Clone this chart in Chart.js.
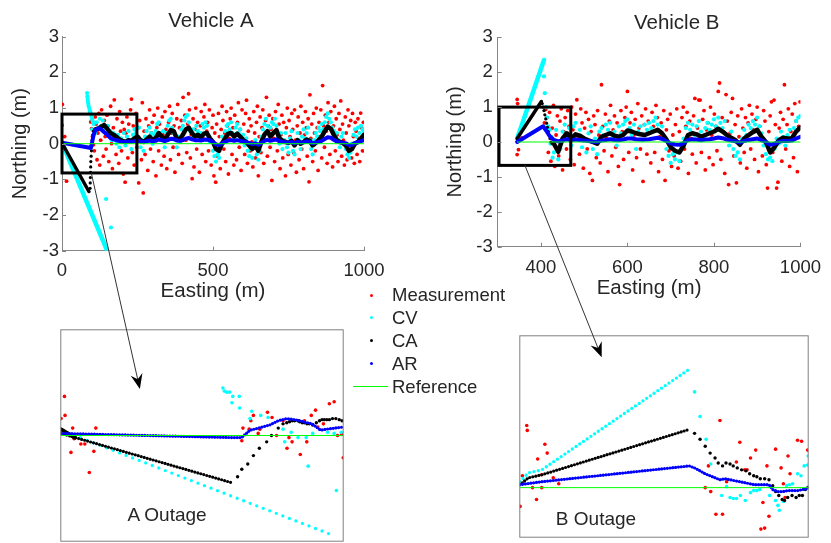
<!DOCTYPE html>
<html><head><meta charset="utf-8">
<title>Vehicle A / Vehicle B</title>
<script src="https://cdn.jsdelivr.net/npm/chart.js@4.4.1/dist/chart.umd.min.js"></script>
<style>
html,body{margin:0;padding:0;background:#ffffff;}
#wrap{position:relative;width:831px;height:543px;overflow:hidden;font-family:"Liberation Sans",Arial,Helvetica,sans-serif;color:#262626;}
#wrap canvas{position:absolute;}
.lg{position:absolute;font-size:18.5px;line-height:20px;white-space:nowrap;color:#262626;z-index:6;}
.mk{position:absolute;z-index:6;}
.out{position:absolute;font-size:19px;line-height:20px;white-space:nowrap;transform:translateX(-50%);color:#262626;z-index:6;}
</style></head>
<body><div id="wrap">
<canvas id="mainA" width="420" height="310" style="left:0px;top:0px"></canvas>
<canvas id="mainB" width="391" height="310" style="left:440px;top:0px"></canvas>
<canvas id="insetA" width="286" height="215" style="left:59px;top:328px"></canvas>
<canvas id="insetB" width="292" height="205" style="left:518px;top:334px"></canvas>
<canvas id="overlay" width="831" height="543" style="left:0px;top:0px;z-index:5"></canvas>
<div class="out" style="left:167px;top:505px">A Outage</div>
<div class="out" style="left:596px;top:509px">B Outage</div>
<div id="legend"></div>
</div>
<script>
// ---------------- tick labels ----------------
const yTicks = [-3, -2, -1, 0, 1, 2, 3];
const xTicksA = [0, 500, 1000];
const xTicksB = [400, 600, 800, 1000];

// ---------------- Vehicle A ----------------
const measA_early = [[0,0.52],[1,1.1],[9,0.2],[15,-1.05]];
const measA_x0 = 92, measA_dx = 3;
const measA_y = [
0.9,0.61,0.42,0.2,-0.03,-0.2,0.75,0.55,-0.45,0.3,0.85,-0.6,0.1,0.95,0.4,-0.35,0.65,0.2,-0.15,0.8,
0.5,-0.5,0.35,1.05,0.0,-0.7,0.45,1.23,0.25,-0.3,0.7,0.15,-0.55,0.9,0.35,-0.2,0.6,-0.85,0.4,-1.08,
0.3,0.75,-0.4,0.55,0.1,0.95,1.25,-0.25,0.5,-0.6,0.2,0.85,-0.1,0.45,-1.1,0.65,0.05,-0.45,1.15,-1.38,
0.35,-0.3,0.7,0.15,-0.75,0.5,0.95,-0.15,0.3,0.6,-0.5,0.8,0.2,-0.9,0.45,1.0,-0.2,0.55,0.1,-0.6,
0.75,0.25,-0.35,0.9,0.4,-0.7,0.15,0.6,1.05,-0.45,0.3,0.85,-0.1,0.5,-0.8,0.2,0.7,1.1,-0.3,0.45,
0.05,0.65,-0.55,1.3,0.35,0.8,0.1,-0.25,0.55,1.4,0.95,-0.4,0.25,-0.98,0.7,-0.65,0.4,1.0,-0.15,0.6,
0.2,-0.8,0.5,0.9,-0.3,0.15,0.75,1.1,-0.5,0.35,0.6,-0.2,0.95,0.1,-0.6,0.45,0.8,-0.9,0.3,-1.08,
0.55,-0.35,0.85,0.2,-0.7,0.4,1.05,0.65,-0.15,0.3,-0.5,0.9,0.5,-0.85,0.15,0.7,1.0,-0.3,0.45,-0.6,
0.8,0.25,-0.45,0.6,1.15,-0.1,0.4,-0.75,0.95,0.15,0.55,-0.3,0.85,1.22,-0.55,0.35,0.7,-0.2,0.5,0.05,
-0.65,0.9,0.3,-0.4,0.6,1.05,-0.9,0.2,0.75,-0.25,0.45,0.95,-0.55,0.1,0.65,1.3,-0.35,0.5,0.8,-0.1,
0.4,-1.03,0.7,0.15,-0.5,0.9,0.35,-0.2,1.1,0.55,-0.7,0.25,0.8,-0.4,0.6,0.05,-0.9,0.45,1.0,-0.3,
0.65,0.2,-0.6,0.85,0.4,-0.25,0.95,0.1,-0.8,0.5,0.75,-0.45,0.3,1.05,-0.15,0.6,-0.7,0.25,0.9,0.45,
-0.35,0.7,-1.07,1.37,0.15,0.55,-0.5,0.85,0.3,-0.2,1.0,0.45,-0.75,0.6,0.2,0.95,-0.4,1.63,0.5,-0.1,
0.8,0.35,-0.55,1.15,0.6,-0.3,0.9,0.15,-0.65,0.5,1.05,-0.2,0.7,0.25,-0.5,0.85,0.4,1.2,-0.35,0.55,
0.1,-0.6,0.75,0.3,-0.45,0.95,0.5,-0.2,0.65,-0.4,0.85,0.2,-0.55,0.6,0.35,-0.3,0.7,0.15,-0.5,0.86,
0.45,-0.2,0.6];

const cvA_x0 = 100, cvA_dx = 5;
const cvA = [
0.4,0.55,0.3,0.6,0.45,0.7,0.5,0.65,0.45,0.3,0.5,0.2,0.35,0.1,0.3,0.15,0.0,0.25,-0.1,0.15,
0.05,0.3,-0.05,0.2,0.35,0.1,-0.15,0.25,0.4,0.3,0.15,0.45,-0.1,0.1,-0.2,0.2,0.35,0.15,0.45,0.3,
0.0,0.25,0.35,0.55,0.6,0.3,0.1,0.35,-0.1,0.3,0.5,0.65,0.7,0.45,0.3,0.1,-0.1,0.2,0.05,0.4,
0.5,0.65,0.75,0.8,0.6,0.35,0.15,0.4,0.25,0.5,0.35,0.1,0.3,0.55,0.45,0.6,0.5,0.2,0.05,0.1,
-0.2,-0.35,-0.5,-0.3,-0.4,-0.1,0.2,0.1,0.35,0.5,0.55,0.4,0.6,0.3,0.15,0.45,0.55,0.3,0.4,0.1,
0.25,-0.05,0.15,-0.2,-0.35,-0.15,-0.4,-0.1,0.1,-0.3,-0.45,-0.2,0.2,0.4,0.55,0.7,0.5,0.3,0.45,0.6,
0.55,0.7,0.5,0.2,0.0,0.3,-0.15,0.1,0.3,-0.1,-0.25,0.15,0.35,-0.2,-0.3,0.0,0.3,0.1,-0.15,0.2,
0.4,0.15,0.3,0.45,0.1,-0.15,-0.3,0.1,0.3,0.2,0.45,0.35,0.55,0.4,0.6,0.75,0.85,0.7,0.6,0.45,
0.35,0.2,0.3,0.1,-0.1,0.2,0.3,0.0,-0.15,-0.3,-0.4,-0.25,0.0,0.25,0.4,0.2,0.45,0.3,0.5,0.4,
0.35];
const cvOutA = [[0,0.02],[157,-3.15]];
const cvRecA = [[83,1.42],[84,1.33],[85,1.25],[86,1.18],[87,1.12],[88,1.06],[90,1.0],[92,0.93],[94,0.88],[96,0.82],[98,0.75],[100,0.68],[102,0.62],[146,-1.55],[162,-2.35]];

const trackA_x0 = 110, trackA_dx = 10;
const caA = [
0.4,0.42,0.48,0.52,0.42,0.3,0.25,0.2,0.12,0.08,
0.05,0.1,0.08,0.15,0.2,0.1,0.05,0.12,0.2,0.1,
0.15,0.3,0.2,0.1,0.25,0.38,0.35,0.15,0.12,0.25,
0.4,0.45,0.3,0.2,0.25,0.18,0.28,0.3,0.15,0.05,
-0.15,-0.2,0.0,0.15,0.28,0.3,0.2,0.28,0.2,0.1,
0.05,-0.05,-0.15,-0.05,-0.2,0.05,0.25,0.35,0.2,0.3,
0.38,0.15,0.08,0.05,0.02,0.08,-0.05,0.1,0.0,0.05,
0.12,0.08,-0.05,0.02,0.1,0.2,0.35,0.48,0.42,0.25,
0.1,0.05,0.02,-0.05,-0.2,-0.15,0.0,0.05,0.15,0.25];
const caOutA = [[0,0.02],[89,-1.34]];
const caRecA = [[93,-1.25],[93.5,-1.1],[94,-0.95],[94.5,-0.8],[95,-0.65],[95.5,-0.5],[96.5,-0.35],[97.5,-0.2],[98.5,-0.05],[100,0.1],[102,0.25],[104,0.35]];

const arA = [
0.38,0.43,0.4,0.32,0.25,0.16,0.12,0.1,0.07,0.05,
0.05,0.06,0.05,0.07,0.08,0.06,0.05,0.07,0.09,0.07,
0.08,0.12,0.1,0.07,0.1,0.14,0.13,0.09,0.08,0.1,
0.14,0.16,0.12,0.1,0.1,0.09,0.11,0.12,0.09,0.05,
-0.02,-0.04,0.01,0.05,0.09,0.1,0.08,0.1,0.08,0.06,
0.04,0.02,-0.01,0.01,-0.03,0.02,0.08,0.11,0.08,0.1,
0.12,0.07,0.05,0.04,0.03,0.05,0.01,0.05,0.03,0.04,
0.06,0.05,0.01,0.03,0.05,0.08,0.13,0.18,0.17,0.11,
0.06,0.04,0.03,0.01,-0.04,-0.03,0.02,0.04,0.07,0.1];
const arOutA = [[0,0.03],[96,-0.12],[104,0.22]];
const refA = [[0,0],[1000,0]];
const boxA = {x0:0, x1:248, y0:-0.82, y1:0.83};

// ---------------- Vehicle B ----------------
const measB_early = [[345,1.22],[346,1.1],[345,-0.36],[348,-0.22],[352,0.3],[356,0.12]];
const measB_x0 = 408, measB_dx = 3;
const measB_y = [
0.55,0.93,0.7,-0.3,0.85,-0.55,0.4,1.05,-0.7,0.2,0.75,-0.4,0.6,0.95,-0.8,0.3,0.7,-0.2,0.9,0.45,
-0.5,1.0,0.35,-0.65,0.8,1.21,0.15,-0.35,0.95,0.55,-0.75,0.4,0.85,-0.2,0.65,-0.9,0.3,-1.1,0.75,0.5,
-0.45,0.9,0.2,-0.6,1.64,0.45,-0.25,0.8,0.1,-0.85,0.6,1.05,-0.4,0.35,0.75,-0.15,0.55,-0.7,-1.22,0.9,
0.3,-0.5,0.7,1.0,1.45,-0.3,0.55,0.85,-0.8,0.2,0.65,-0.45,1.1,0.4,-0.2,0.75,-1.13,0.5,0.95,-0.35,
0.6,0.25,-0.6,0.85,0.45,-0.3,1.05,0.7,-0.85,0.15,0.55,-0.5,0.9,-1.1,0.35,0.65,-0.25,0.8,-0.7,0.2,
-0.4,0.5,0.95,-0.75,0.3,-0.55,0.7,1.0,-0.2,0.45,0.85,-0.9,0.6,0.1,-0.35,0.75,1.25,-0.6,0.4,1.2,
1.2,-0.3,0.65,0.9,-0.8,0.35,0.55,-0.45,1.0,0.2,-0.65,0.8,0.45,-0.25,1.45,1.69,-0.5,0.7,0.3,-0.9,
1.36,0.6,-1.22,0.25,0.85,1.25,-0.4,0.5,-1.17,0.75,0.15,-0.6,0.95,0.4,-0.3,0.7,-0.75,0.55,1.05,-0.2,
0.8,0.35,-0.5,0.65,1.0,-0.85,0.45,0.2,-0.4,0.9,0.6,-0.65,-1.32,0.3,0.75,1.15,-0.3,1.2,0.5,-1.32,
-1.15,0.4,0.85,-0.55,0.65,1.64,-0.2,0.5,0.95,-0.7,0.3,0.8,-0.45,1.1,0.6,-0.85,0.45,1.15];

const cvB_x0 = 430, cvB_dx = 5;
const cvB = [
-0.3,0.35,-0.5,-0.2,0.3,0.5,0.2,0.4,-0.1,0.45,0.55,0.2,0.35,-0.15,0.1,-0.3,0.25,0.45,-0.2,0.1,
-0.35,0.3,0.4,0.2,0.5,0.35,0.55,0.1,0.3,-0.1,0.45,0.25,0.5,0.6,0.65,0.4,0.2,0.5,-0.2,0.3,
0.45,0.05,0.5,0.35,0.55,0.4,0.6,0.7,0.5,0.3,0.45,0.1,-0.2,-0.4,-0.6,-0.35,-0.5,-0.3,-0.55,-0.2,
0.1,0.4,0.55,0.35,0.5,0.2,0.45,0.6,0.3,0.1,0.4,0.55,0.35,0.5,0.65,0.45,0.7,0.55,0.4,0.6,
0.2,-0.1,0.3,-0.2,-0.4,-0.3,-0.5,0.1,0.35,0.2,0.5,0.4,0.6,0.5,0.7,0.45,0.25,-0.1,-0.35,-0.5,
-0.45,-0.55,-0.2,0.1,-0.05,0.3,0.15,-0.1,0.2,0.35,0.1,0.4,0.6,0.7,0.75];
const cvOutB = [[345,0.1],[407,2.35]];
const cvRecB = [[407,1.88],[409,1.4],[412,1.0],[414,0.7],[417,0.45],[420,0.35],[422,-0.05],[424,0.15],[427,-0.45]];

const trackB_x0 = 430, trackB_dx = 10;
const caB = [
-0.05,-0.28,0.1,0.25,0.1,0.22,0.18,0.1,0.05,0.0,
-0.05,0.15,0.2,0.25,0.18,0.15,0.2,0.33,0.3,0.25,
0.22,0.2,0.25,0.3,0.35,0.25,0.08,-0.15,-0.25,-0.3,
-0.1,0.2,0.25,0.22,0.15,0.2,0.25,0.3,0.38,0.3,
0.2,0.12,0.05,-0.08,0.1,0.2,0.28,0.35,0.15,0.0,
-0.3,-0.15,0.05,0.12,0.1,0.1,0.3,0.42];
const caOutB = [[345,0.1],[401,1.16]];
const caRecB = [[403,1.1],[405,1.0],[407,0.9],[409,0.78],[411,0.66],[413,0.54],[415,0.42],[417,0.3],[419,0.2],[421,0.1],[423,0.0],[426,-0.05]];

const arB = [
0.06,0.02,0.04,0.08,0.05,0.07,0.06,0.04,0.03,0.01,
0.0,0.04,0.06,0.08,0.06,0.05,0.07,0.1,0.1,0.08,
0.07,0.07,0.08,0.1,0.12,0.09,0.03,-0.04,-0.07,-0.08,
-0.03,0.06,0.08,0.07,0.05,0.07,0.08,0.1,0.13,0.11,
0.07,0.04,0.02,-0.02,0.03,0.06,0.08,0.1,0.05,0.0,
-0.08,-0.05,0.01,0.03,0.03,0.04,0.1,0.15];
const arOutB = [[345,0.0],[405,0.45],[412,0.33],[420,0.17]];
const refB = [[345,0],[1000,0]];
const boxB = {x0:303, x1:469, y0:-0.67, y1:1.0};

// ---------------- Inset A (outage close-up, relative units) ----------------
const insA_meas = [[0.1,0.16],[1.3,0.37],[1.5,0.19],[4.2,0.07],[3.6,-0.16],[4.7,-0.03],[7.1,-0.08],[8.5,-0.08],[10.1,-0.35],[11.7,-0.15],[12.4,0.07],
[64.5,0.07],[64.1,-0.05],[66.7,0.06],[67.3,0.14],[68.2,0.19],[69.9,0.02],[70.5,0.06],[73.2,0.22],[74.8,0.17],[76.4,0],[78.7,0.14],[80.1,-0.12],[80.8,-0.02],[81.9,-0.06],[84.8,-0.18],[86.3,0.14],[87.1,-0.06],[88.7,0.19],[90.2,0.24],[91,0.08],[93,0.11],[95.1,0.3],[96.8,0.32],[98,0],[99.5,0.01],[100,-0.21]];
const insA_cvOut = [[0,0.05],[97,-0.95]];
const insA_cvPost = [[57.4,0.45],[57.9,0.42],[58.8,0.41],[59.8,0.41],[60.9,0.37],[60.6,0.31],[63.2,0.37],[63.3,0.26],[67.6,0.23],[67,0.16],[70.8,0.19],[73.4,0.17],[78.7,0.06],[81.6,0.03],[79.3,-0.06],[84,-0.02],[86.9,-0.02],[87.6,-0.29],[89.2,0.02],[94.5,0.03],[97.6,-0.52],[96.8,0.02],[99.3,0.03]];
const insA_caStart = [[0,0.06],[5,-0.02]];
const insA_caOut = [[0,0.02],[61,-0.45]];
const insA_caPost = [[62.6,-0.39],[64.1,-0.32],[66.2,-0.27],[68.2,-0.19],[70.3,-0.12],[72.9,-0.06],[74.6,0],[77,0.07],[78.7,0.11],[80,0.12],[81,0.13],[82,0.14],[82.8,0.14],[84,0.14],[84.6,0.13],[85.5,0.12],[86.3,0.12],[87.2,0.11],[88,0.11],[89.2,0.1],[90.5,0.12],[91.6,0.14],[92.5,0.15],[93.3,0.15],[94.2,0.15],[95.1,0.15],[96.2,0.16],[97.4,0.16],[98.6,0.15],[99.6,0.14]];
const insA_ar = [[0,0.02],[61,-0.02],[64,-0.02],[67,0.05],[70,0.07],[74,0.1],[77,0.14],[80,0.16],[83,0.15],[86,0.13],[89,0.11],[92,0.05],[94,0.06],[97,0.07],[100,0.08]];
const insA_ref = [[0,0],[100,0]];

// ---------------- Inset B ----------------
const insB_meas = [[0.1,-0.19],[2.4,0.63],[2.6,0.58],[0.9,0.12],[4.4,0],[5.8,-0.12],[6.2,0.29],[7.6,0],[7.6,0.13],[8.7,0.44],[9.5,0.35],[11.6,0.1],[13.5,0.04],
[64.3,0],[65.4,0.22],[66.2,-0.04],[68,-0.27],[69.4,0.68],[70.3,-0.27],[71.7,0.06],[75.1,0.26],[76.3,0.46],[78,0.18],[78.8,0.18],[80,0.3],[81.8,0.38],[83.6,-0.42],[84.3,-0.15],[84.9,-0.41],[85.7,0.22],[86.4,-0.29],[88.7,0.39],[90.6,0.2],[91.4,0.04],[92,-0.1],[93,0.32],[93.7,0.14],[96.3,0.48],[97.7,0.47],[99.8,0.38],[100,0]];
const insB_cvOut = [[0,0.06],[3,0.15],[7.6,0.18],[58.8,1.2]];
const insB_cvPost = [[60.6,0.97],[62.5,0.72],[64.6,0.49],[66.2,0.24],[70,-0.08],[71.7,0.01],[72.9,-0.1],[74,-0.11],[75.1,-0.11],[76.5,-0.08],[78.2,-0.13],[80,-0.05],[81.1,-0.03],[82.2,-0.03],[83.2,-0.02],[86.6,-0.08],[88.7,-0.13],[89.5,-0.18],[90,-0.23],[91.4,-0.14],[92.5,0.02],[93.5,0.03],[94.6,0.04],[96.3,0.14],[97.5,0.12],[98.6,0.22],[99.8,0.23],[100,0.32]];
const insB_caOut = [[0,0.03],[3,0.1],[7.6,0.13],[58.8,0.59]];
const insB_caPost = [[60.6,0.55],[62.5,0.49],[64.3,0.42],[66,0.35],[67.7,0.3],[68.8,0.25],[70.3,0.22],[71.5,0.25],[72.9,0.24],[74,0.22],[75.4,0.2],[76.9,0.18],[78.4,0.17],[79.7,0.14],[81.1,0.12],[82.2,0.11],[83.4,0.09],[84.9,0.09],[86.4,0.08],[87.7,0.02],[88.7,-0.04],[89.8,-0.08],[91,-0.12],[91.8,-0.13],[92.9,-0.1],[94.4,-0.08],[95.8,-0.1],[96.9,-0.08],[98,-0.08],[99,-0.02],[100,0]];
const insB_ar = [[0,0.03],[7.6,0.06],[58.8,0.22],[60.6,0.2],[62.5,0.17],[64.3,0.14],[66,0.12],[67.7,0.1],[69.4,0.08],[71.1,0.09],[72.9,0.08],[74.6,0.07],[76.3,0.06],[78,0.05],[79.7,0.04],[81.4,0.03],[84.9,0.03],[86.4,0.03],[87.7,-0.02],[89.5,-0.04],[91.2,-0.04],[92.9,-0.03],[96.3,-0.03],[98,-0.02],[99.7,-0.01],[100,0.01]];
const insB_ref = [[0,0],[100,0]];

// ---------------- legend ----------------
const legendLabels = ['Measurement', 'CV', 'CA', 'AR', 'Reference'];

// ================= rendering =================
const FONT = '"Liberation Sans", Arial, Helvetica, sans-serif';
const TXT = '#262626', AXIS = '#858585';
const C = {meas:'#ff0000', cv:'#00ffff', ca:'#000000', ar:'#0000ff', ref:'#00ff00'};
const legendColors = [C.meas, C.cv, C.ca, C.ar, C.ref];
Chart.defaults.font.family = FONT;
Chart.defaults.color = TXT;

function seq(x0, dx, ys){ return ys.map((y,i)=>({x:x0+i*dx, y:y})); }
function pairs(a){ return a.map(p=>({x:p[0], y:p[1]})); }
function ptsDs(data, color, r, order){
  return {data:data, showLine:false, pointRadius:r, pointHoverRadius:r, pointBorderWidth:0,
          pointBackgroundColor:color, backgroundColor:color, borderColor:color, order:order};
}
function lineDs(data, color, w, order, gap){
  const d = {data:data, showLine:true, pointRadius:0, pointHoverRadius:0, borderColor:color, backgroundColor:color,
             borderWidth:w, tension:0, fill:false, order:order, borderJoinStyle:'round', borderCapStyle:'round'};
  if (gap) d.borderDash = [0, gap];
  return d;
}

const plotTitle = {id:'plotTitle', afterDraw(chart, args, o){
  const c = chart.ctx; c.save(); c.font = '20.5px ' + FONT; c.fillStyle = TXT;
  c.textAlign = 'center'; c.textBaseline = 'middle'; c.fillText(o.text, o.x, o.y); c.restore();
}};
const zoomBox = {id:'zoomBox', afterDatasetsDraw(chart, args, o){
  const xs = chart.scales.x, ys = chart.scales.y, c = chart.ctx;
  const l = xs.getPixelForValue(o.x0), r = xs.getPixelForValue(o.x1);
  const t = ys.getPixelForValue(o.y1), b = ys.getPixelForValue(o.y0);
  c.save(); c.strokeStyle = '#000'; c.lineWidth = 3; c.strokeRect(l, t, r-l, b-t); c.restore();
}};
const inTicks = {id:'inTicks', afterDraw(chart){
  const xs = chart.scales.x, ys = chart.scales.y, a = chart.chartArea, c = chart.ctx;
  c.save(); c.strokeStyle = AXIS; c.lineWidth = 1; c.beginPath();
  xs.ticks.forEach(t=>{ const p = Math.round(xs.getPixelForValue(t.value)) + 0.5; c.moveTo(p, a.bottom); c.lineTo(p, a.bottom - 4); });
  ys.ticks.forEach(t=>{ const p = Math.round(ys.getPixelForValue(t.value)) + 0.5; c.moveTo(a.left, p); c.lineTo(a.left + 4, p); });
  c.stroke(); c.restore();
}};
const frame = {id:'frame', afterDraw(chart){
  const a = chart.chartArea, c = chart.ctx;
  c.save(); c.strokeStyle = '#808080'; c.lineWidth = 1; c.strokeRect(a.left, a.top, a.right-a.left, a.bottom-a.top); c.restore();
}};

function mainChart(id, cfg){
  return new Chart(document.getElementById(id), {
    type:'scatter',
    data:{datasets:cfg.datasets},
    options:{
      responsive:false, animation:false, events:[],
      layout:{padding:{top:cfg.padTop, right:cfg.padRight, left:0, bottom:0}},
      plugins:{legend:{display:false}, tooltip:{enabled:false},
               plotTitle:{text:cfg.title, x:cfg.titleX, y:cfg.titleY}, zoomBox:cfg.box},
      scales:{
        x:{type:'linear', position:'bottom', min:cfg.xMin, max:cfg.xMax,
           afterBuildTicks:s=>{ s.ticks = cfg.xTicks.map(v=>({value:v})); },
           afterFit:s=>{ s.height = cfg.xAxisH; },
           grid:{display:false, drawTicks:false},
           border:{display:true, color:AXIS, width:1},
           ticks:{padding:cfg.xTickPad, font:{size:18.5}, color:TXT, maxRotation:0, autoSkip:false, callback:v=>String(v)},
           title:{display:true, text:'Easting (m)', font:{size:20.5}, color:TXT, padding:{top:0, bottom:cfg.xTitlePad}}},
        y:{type:'linear', position:'left', min:-3, max:3,
           afterBuildTicks:s=>{ s.ticks = yTicks.map(v=>({value:v})); },
           afterFit:s=>{ s.width = cfg.yAxisW; },
           grid:{display:false, drawTicks:false},
           border:{display:true, color:AXIS, width:1},
           ticks:{padding:cfg.yTickPad, font:{size:18.5}, color:TXT, autoSkip:false, callback:v=>String(v)},
           title:{display:true, text:'Northing (m)', font:{size:20}, color:TXT, padding:{top:cfg.yTitlePad, bottom:0}}}
      }
    },
    plugins:[plotTitle, zoomBox, inTicks]
  });
}

function insetChart(id, datasets, yMin, yMax){
  return new Chart(document.getElementById(id), {
    type:'scatter',
    data:{datasets:datasets},
    options:{
      responsive:false, animation:false, events:[],
      layout:{padding:0.5},
      plugins:{legend:{display:false}, tooltip:{enabled:false}},
      scales:{x:{type:'linear', display:false, min:0, max:100}, y:{type:'linear', display:false, min:yMin, max:yMax}}
    },
    plugins:[frame]
  });
}

const chartA = mainChart('mainA', {
  datasets:[
    ptsDs(pairs(measA_early).concat(seq(measA_x0, measA_dx, measA_y)), C.meas, 1.9, 5),
    lineDs(pairs(cvOutA), C.cv, 4.5, 4),
    ptsDs(pairs(cvRecA).concat(seq(cvA_x0, cvA_dx, cvA)), C.cv, 2.1, 4),
    lineDs(pairs(caOutA), C.ca, 3.5, 3),
    ptsDs(pairs(caRecA), C.ca, 1.6, 3),
    lineDs(seq(trackA_x0, trackA_dx, caA), C.ca, 4.5, 3),
    lineDs(pairs(arOutA).concat(seq(trackA_x0, trackA_dx, arA)), C.ar, 4, 2),
    lineDs(pairs(refA), C.ref, 1, 1)
  ],
  xMin:0, xMax:1000, xTicks:xTicksA,
  padTop:36.7, padRight:56, xAxisH:59.3, yAxisW:62,
  xTickPad:9, yTickPad:3, xTitlePad:6, yTitlePad:8,
  title:'Vehicle A', titleX:211, titleY:21.7, box:boxA
});

const chartB = mainChart('mainB', {
  datasets:[
    ptsDs(pairs(measB_early).concat(seq(measB_x0, measB_dx, measB_y)), C.meas, 1.9, 5),
    lineDs(pairs(cvOutB), C.cv, 4.5, 4),
    ptsDs(pairs(cvRecB).concat(seq(cvB_x0, cvB_dx, cvB)), C.cv, 2.1, 4),
    lineDs(pairs(caOutB), C.ca, 3.5, 3),
    ptsDs(pairs(caRecB), C.ca, 1.6, 3),
    lineDs(seq(trackB_x0, trackB_dx, caB), C.ca, 4.5, 3),
    lineDs(pairs(arOutB).concat(seq(trackB_x0, trackB_dx, arB)), C.ar, 4, 2),
    lineDs(pairs(refB), C.ref, 1, 1)
  ],
  xMin:300, xMax:1000, xTicks:xTicksB,
  padTop:37.3, padRight:23, xAxisH:63.3, yAxisW:57.7,
  xTickPad:10, yTickPad:5, xTitlePad:9.5, yTitlePad:3,
  title:'Vehicle B', titleX:236.7, titleY:23, box:boxB
});

const insA = insetChart('insetA', [
  ptsDs(pairs(insA_meas), C.meas, 1.8, 5),
  lineDs(pairs(insA_cvOut), C.cv, 3.3, 4, 7),
  ptsDs(pairs(insA_cvPost), C.cv, 1.8, 4),
  lineDs(pairs(insA_caStart), C.ca, 4, 3),
  lineDs(pairs(insA_caOut), C.ca, 3.2, 3, 3.1),
  ptsDs(pairs(insA_caPost), C.ca, 1.7, 3),
  lineDs(pairs(insA_ar), C.ar, 3.2, 2, 2.8),
  lineDs(pairs(insA_ref), C.ref, 1, 1)
], -1, 1);

const insB = insetChart('insetB', [
  ptsDs(pairs(insB_meas), C.meas, 1.8, 5),
  lineDs(pairs(insB_cvOut), C.cv, 3.3, 4, 4.5),
  ptsDs(pairs(insB_cvPost), C.cv, 1.8, 4),
  lineDs(pairs(insB_caOut), C.ca, 3.2, 3, 3.1),
  ptsDs(pairs(insB_caPost), C.ca, 1.7, 3),
  lineDs(pairs(insB_ar), C.ar, 3.2, 2, 2.8),
  lineDs(pairs(insB_ref), C.ref, 1, 1)
], -0.502, 1.538);

// ---------- arrows from zoom boxes to insets ----------
const arrowA = {from:[97, -0.82], to:[28, 0.44]};
const arrowB = {from:[363, -0.67], to:[28.4, 1.32]};
function pagePt(chart, id, v){
  const el = document.getElementById(id);
  return {x: el.offsetLeft + chart.scales.x.getPixelForValue(v[0]), y: el.offsetTop + chart.scales.y.getPixelForValue(v[1])};
}
function drawArrow(ctx, p0, p1){
  const ang = Math.atan2(p1.y-p0.y, p1.x-p0.x), ca = Math.cos(ang), sa = Math.sin(ang);
  const L = 15, W = 6, N = 10;
  const bx = p1.x - L*ca, by = p1.y - L*sa, nx = p1.x - N*ca, ny = p1.y - N*sa;
  ctx.beginPath(); ctx.moveTo(p0.x, p0.y); ctx.lineTo(nx, ny); ctx.stroke();
  ctx.beginPath(); ctx.moveTo(p1.x, p1.y);
  ctx.lineTo(bx + W*sa, by - W*ca); ctx.lineTo(nx, ny); ctx.lineTo(bx - W*sa, by + W*ca);
  ctx.closePath(); ctx.fill();
}
const oc = document.getElementById('overlay').getContext('2d');
oc.strokeStyle = '#333'; oc.fillStyle = '#000'; oc.lineWidth = 1;
drawArrow(oc, pagePt(chartA, 'mainA', arrowA.from), pagePt(insA, 'insetA', arrowA.to));
drawArrow(oc, pagePt(chartB, 'mainB', arrowB.from), pagePt(insB, 'insetB', arrowB.to));

// ---------- legend ----------
const lg = document.getElementById('legend');
legendLabels.forEach((lab, i)=>{
  const cy = 295 + i*22.9;
  const t = document.createElement('div'); t.className = 'lg'; t.textContent = lab;
  t.style.left = '392px'; t.style.top = (cy - 10) + 'px'; lg.appendChild(t);
  const m = document.createElement('div'); m.className = 'mk';
  if (i < 4){
    m.style.cssText += 'left:369.5px;top:' + (cy-1.5) + 'px;width:3px;height:3px;border-radius:50%;background:' + legendColors[i] + ';';
  } else {
    m.style.cssText += 'left:353px;top:' + (cy-0.5) + 'px;width:35px;height:1px;background:' + legendColors[i] + ';';
  }
  lg.appendChild(m);
});
</script>
</body></html>
